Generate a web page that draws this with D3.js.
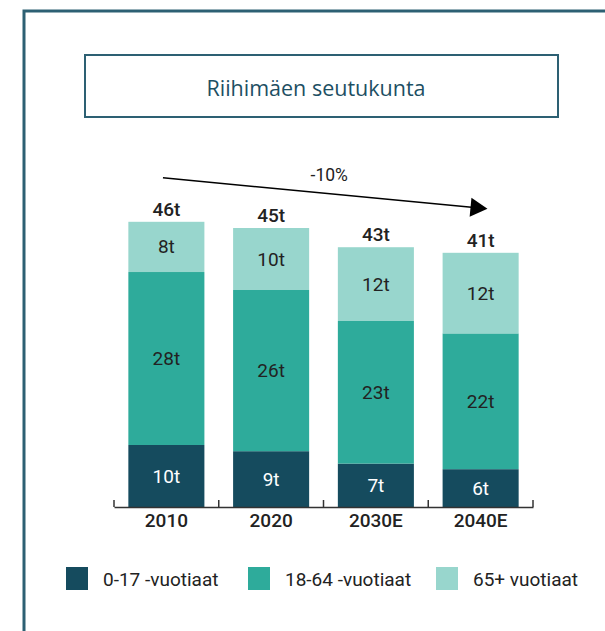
<!DOCTYPE html>
<html>
<head>
<meta charset="utf-8">
<script src="https://cdn.jsdelivr.net/npm/d3@7"></script>
<style>
    body { margin: 0; background: #fff; }
    svg text { font-family: Roboto, "Noto Sans", sans-serif; }
</style>
</head>
<body>
<div id="chart"></div>
<script>
// Data (thousands of inhabitants)
const years = ['2010', '2020', '2030E', '2040E']
const youth = [10.0, 9.0, 7.0, 6.1]        // 0-17
const working = [27.9, 26.0, 23.0, 21.9]   // 18-64
const elderly = [8.1, 10.0, 11.9, 13.0]    // 65+
const youthLabels = ['10t', '9t', '7t', '6t']
const workingLabels = ['28t', '26t', '23t', '22t']
const elderlyLabels = ['8t', '10t', '12t', '12t']
const totalLabels = ['46t', '45t', '43t', '41t']
const changeLabel = '-10%'
const seriesNames = ['0-17 -vuotiaat', '18-64 -vuotiaat', '65+ vuotiaat']
const seriesColors = ['#154b5e', '#2eab9b', '#98d6cd']
const title = 'Riihimäen seutukunta'

const width = 605
const height = 631

const svg = d3.select('#chart')
    .append('svg')
    .attr('width', width)
    .attr('height', height)

// outer frame (runs off the right and bottom edges)
svg.append('path')
    .attr('d', `M24,${height + 5} L24,11 L${width + 5},11`)
    .attr('fill', 'none')
    .attr('stroke', '#2d6073')
    .attr('stroke-width', 3)

// title box
svg.append('rect')
    .attr('x', 85).attr('y', 55)
    .attr('width', 473).attr('height', 62)
    .attr('fill', 'none')
    .attr('stroke', '#2d6073')
    .attr('stroke-width', 2)

svg.append('text')
    .attr('x', 316).attr('y', 87)
    .attr('text-anchor', 'middle')
    .attr('dominant-baseline', 'central')
    .style('font-family', '"Open Sans", sans-serif')
    .style('font-size', '21.5px')
    .style('fill', '#1d4f63')
    .text(title)

// scales
const baseY = 507
const x = d3.scaleBand()
    .domain(years)
    .range([114, 533])
    .paddingInner(0.274)
    .paddingOuter(0.137)

const y = d3.scaleLinear()
    .domain([0, 50])
    .range([baseY, baseY - 310])

// stack the three series
const rows = years.map((year, i) => ({
    year,
    youth: youth[i],
    working: working[i],
    elderly: elderly[i]
}))
const labels = [youthLabels, workingLabels, elderlyLabels]
const textColors = ['#fff', '#222', '#222']
const stack = d3.stack().keys(['youth', 'working', 'elderly'])
const series = stack(rows)

const layers = svg.selectAll('g.layer')
    .data(series)
    .enter()
    .append('g')
    .attr('class', 'layer')
    .attr('fill', (d, i) => seriesColors[i])

layers.selectAll('rect')
    .data(d => d)
    .enter()
    .append('rect')
    .attr('x', d => x(d.data.year))
    .attr('y', d => y(d[1]))
    .attr('width', x.bandwidth())
    .attr('height', d => y(d[0]) - y(d[1]))

series.forEach((s, k) => {
    svg.append('g')
        .selectAll('text')
        .data(s)
        .enter()
        .append('text')
        .attr('x', d => x(d.data.year) + x.bandwidth() / 2)
        .attr('y', d => (y(d[0]) + y(d[1])) / 2)
        .attr('text-anchor', 'middle')
        .attr('dominant-baseline', 'central')
        .style('font-size', '19px')
        .style('fill', textColors[k])
        .text((d, i) => labels[k][i])
})

// totals above the bars
const topLayer = series[series.length - 1]
svg.append('g')
    .selectAll('text')
    .data(topLayer)
    .enter()
    .append('text')
    .attr('x', d => x(d.data.year) + x.bandwidth() / 2)
    .attr('y', d => y(d[1]) - 6)
    .attr('text-anchor', 'middle')
    .style('font-size', '19px')
    .style('font-weight', 500)
    .style('fill', '#222')
    .text((d, i) => totalLabels[i])

// x axis
const axis = svg.append('g')
    .attr('transform', `translate(0,${baseY})`)
    .call(d3.axisBottom(x).tickSize(0).tickPadding(6.5))
axis.select('.domain').attr('stroke', '#333').attr('stroke-width', 1.5)
axis.selectAll('text')
    .style('font-family', 'Roboto, sans-serif')
    .style('font-size', '19px')
    .style('font-weight', 500)
    .style('fill', '#222')

// separators between the categories
axis.selectAll('line.sep')
    .data(d3.range(years.length + 1))
    .enter()
    .append('line')
    .attr('class', 'sep')
    .attr('x1', i => x.range()[0] + i * x.step())
    .attr('x2', i => x.range()[0] + i * x.step())
    .attr('y1', -7)
    .attr('y2', 0)
    .attr('stroke', '#333')
    .attr('stroke-width', 1.5)

// trend arrow
const first = topLayer[0]
const last = topLayer[topLayer.length - 1]
const ax1 = x(first.data.year) + x.bandwidth() * 0.455
const ay1 = y(first[1]) - 44
const ax2 = x(last.data.year) + x.bandwidth() * 0.59
const ay2 = y(last[1]) - 44
const angle = Math.atan2(ay2 - ay1, ax2 - ax1)
const headLen = 17
const headHalf = 9.5

svg.append('line')
    .attr('x1', ax1).attr('y1', ay1)
    .attr('x2', ax2 - headLen * Math.cos(angle) + 1)
    .attr('y2', ay2 - headLen * Math.sin(angle))
    .attr('stroke', '#000')
    .attr('stroke-width', 1.5)

svg.append('polygon')
    .attr('points', [[0, 0], [-headLen, -headHalf], [-headLen, headHalf]].map(p => p.join(',')).join(' '))
    .attr('transform', `translate(${ax2},${ay2}) rotate(${angle * 180 / Math.PI})`)
    .attr('fill', '#000')

svg.append('text')
    .attr('x', (ax1 + ax2) / 2 + 4)
    .attr('y', (ay1 + ay2) / 2 - 12)
    .attr('text-anchor', 'middle')
    .style('font-size', '17.5px')
    .style('fill', '#222')
    .text(changeLabel)

// legend
const legendX = [66, 248, 436]
const legend = svg.append('g')
    .selectAll('g')
    .data(seriesNames)
    .enter()
    .append('g')
    .attr('transform', (d, i) => `translate(${legendX[i]},567)`)

legend.append('rect')
    .attr('width', 22)
    .attr('height', 23)
    .attr('fill', (d, i) => seriesColors[i])

legend.append('text')
    .attr('x', 37)
    .attr('y', 12)
    .attr('dominant-baseline', 'central')
    .style('font-size', '19px')
    .style('fill', '#222')
    .text(d => d)
</script>
</body>
</html>
